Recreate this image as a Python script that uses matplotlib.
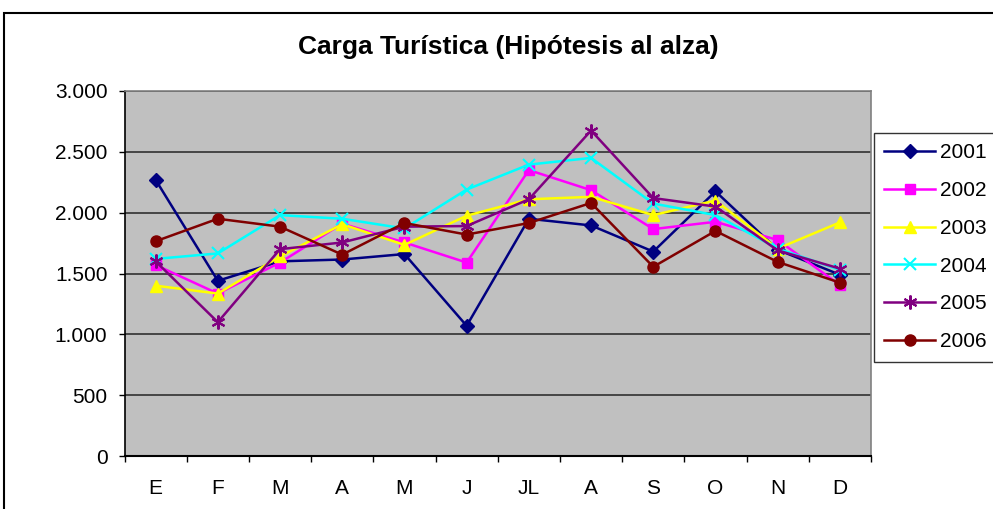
import matplotlib
matplotlib.use("Agg")
import matplotlib.pyplot as plt
from matplotlib.ticker import FuncFormatter, FixedLocator
from matplotlib.patches import Rectangle

months = ["E", "F", "M", "A", "M", "J", "JL", "A", "S", "O", "N", "D"]
years = ["2001", "2002", "2003", "2004", "2005", "2006"]
s2001 = [2270, 1440, 1600, 1615, 1660, 1070, 1950, 1895, 1680, 2175, 1695, 1490]
s2002 = [1570, 1335, 1590, 1910, 1755, 1590, 2350, 2185, 1865, 1925, 1775, 1405]
s2003 = [1400, 1335, 1640, 1905, 1735, 1975, 2110, 2130, 1980, 2100, 1705, 1920]
s2004 = [1620, 1665, 1980, 1950, 1870, 2190, 2395, 2450, 2075, 1980, 1705, 1530]
s2005 = [1600, 1100, 1700, 1755, 1885, 1890, 2110, 2675, 2120, 2050, 1690, 1540]
s2006 = [1765, 1950, 1885, 1655, 1915, 1820, 1915, 2080, 1555, 1850, 1595, 1425]
series = [s2001, s2002, s2003, s2004, s2005, s2006]
colors = ["#000080", "#FF00FF", "#FFFF00", "#00FFFF", "#800080", "#800000"]
markers = ["D", "s", "^", "x", (6, 2, 0), "o"]
msizes = [7, 7, 9, 9, 10, 8]
yticks = [0, 500, 1000, 1500, 2000, 2500, 3000]

plt.rcParams["font.family"] = ["Liberation Sans", "DejaVu Sans"]

W, H = 993, 509
fig = plt.figure(figsize=(W / 100, H / 100), dpi=100)
fig.patches.append(Rectangle((4 / W, -0.1), 1.2, 1 - 13 / H + 0.1, transform=fig.transFigure,
                             fill=False, edgecolor="black", linewidth=1.5, zorder=0))

ax = fig.add_axes([124.5 / W, (H - 456) / H, (871 - 124.5) / W, (456 - 91) / H])
ax.set_facecolor("#C0C0C0")
x = list(range(len(months)))
for yr, vals, c, m, ms in zip(years, series, colors, markers, msizes):
    ax.plot(x, vals, color=c, marker=m, markersize=ms, linewidth=1.8, label=yr,
            markeredgewidth=1.5 if m in ("x", (6, 2, 0)) else 1.0,
            markeredgecolor=c, markerfacecolor=c, zorder=3)

ax.set_xlim(-0.5, len(months) - 0.5)
ax.set_ylim(0, 3000)
ax.set_yticks(yticks)
ax.yaxis.set_major_formatter(FuncFormatter(lambda v, p: f"{int(v):,}".replace(",", ".")))
ax.grid(axis="y", color="#303030", linewidth=1.2, zorder=1)
ax.set_axisbelow(True)

ax.xaxis.set_major_locator(FixedLocator([i - 0.5 for i in range(len(months) + 1)]))
ax.xaxis.set_major_formatter(FuncFormatter(lambda v, p: ""))
ax.xaxis.set_minor_locator(FixedLocator(x))
ax.set_xticklabels(months, minor=True)
ax.tick_params(axis="x", which="major", length=4.3, width=1, direction="out", color="black")
ax.tick_params(axis="x", which="minor", length=0, pad=16.5, labelsize=15)
ax.tick_params(axis="y", length=4.3, width=1, direction="out", labelsize=15, pad=8)

for side in ["top", "right"]:
    ax.spines[side].set_color("#808080")
    ax.spines[side].set_linewidth(1.2)
ax.spines["left"].set_color("black")
ax.spines["bottom"].set_color("black")
ax.spines["left"].set_linewidth(1.2)
ax.spines["bottom"].set_linewidth(1.5)

fig.text(508 / W, 1 - 47 / H, "Carga Turística (Hipótesis al alza)", ha="center", va="center",
         fontsize=19, fontweight="bold")

leg = fig.legend(loc="upper left", bbox_to_anchor=(874 / W, 1 - 133 / H), frameon=True,
                 fancybox=False, edgecolor="black", fontsize=15, borderpad=0.5,
                 labelspacing=0.9, handlelength=2.45, handletextpad=0.22, borderaxespad=0)
leg.get_frame().set_linewidth(1.0)

fig.savefig("out.png", dpi=100, facecolor="white")
